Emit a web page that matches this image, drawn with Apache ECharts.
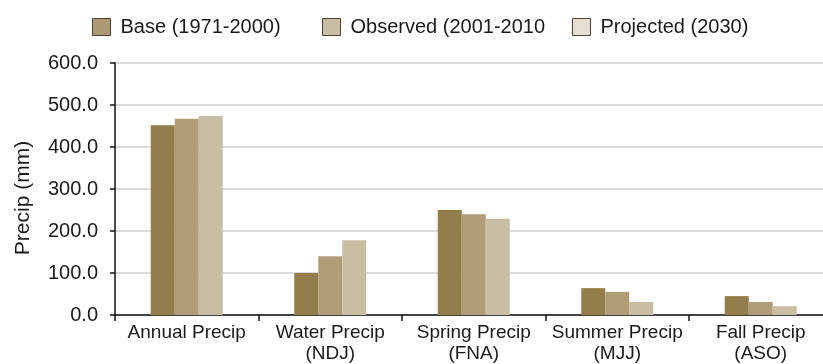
<!DOCTYPE html>
<html>
<head>
<meta charset="utf-8">
<script src="https://cdn.jsdelivr.net/npm/echarts@6/dist/echarts.min.js"></script>
<style>
  html, body { margin: 0; padding: 0; background: #fff; }
  #chart { width: 823px; height: 364px; }
</style>
</head>
<body>
<div id="chart"></div>
<script>
const categories = ['Annual Precip', 'Water Precip\n(NDJ)', 'Spring Precip\n(FNA)', 'Summer Precip\n(MJJ)', 'Fall Precip\n(ASO)']
const seriesNames = ['Base (1971-2000)', 'Observed (2001-2010', 'Projected (2030)']
const baseValues = [452, 100, 250, 64, 45]
const observedValues = [467, 140, 240, 55, 31]
const projectedValues = [474, 178, 229, 31, 21]
const yTicks = [0, 100, 200, 300, 400, 500, 600]

const barColors = ['#937e4b', '#b09d77', '#c9bea4']
const legendColors = ['#ad9a74', '#c9bea3', '#e6e0d4']
const legendLeft = [87, 317, 567]
const font = '"Liberation Sans", Arial, sans-serif'

const chart = echarts.init(document.getElementById('chart'))

chart.setOption({
  animation: false,
  grid: { left: 115, right: -9.5, top: 63, bottom: 49, outerBoundsMode: 'none', containLabel: false },
  legend: seriesNames.map((name, i) => ({
    left: legendLeft[i],
    top: 12,
    icon: 'rect',
    itemWidth: 18,
    itemHeight: 17,
    data: [{
      name,
      itemStyle: { color: legendColors[i], borderColor: '#4d4030', borderWidth: 1 }
    }],
    textStyle: { fontFamily: font, fontSize: 20, color: '#1a1a1a', padding: [0, 0, 0, 5] }
  })),
  xAxis: {
    type: 'category',
    data: categories,
    axisLine: { lineStyle: { color: '#111', width: 1.5 } },
    axisTick: { show: true, interval: 0, length: 6, lineStyle: { color: '#111', width: 1.5 } },
    axisLabel: { interval: 0, fontFamily: font, fontSize: 19, color: '#1a1a1a', lineHeight: 21, margin: 7 }
  },
  yAxis: {
    type: 'value',
    min: yTicks[0],
    max: yTicks[yTicks.length - 1],
    interval: 100,
    name: 'Precip (mm)',
    nameLocation: 'middle',
    nameGap: 81,
    nameRotate: 90,
    nameTextStyle: { fontFamily: font, fontSize: 21, color: '#1a1a1a', padding: [0, 18, 0, 0] },
    axisLine: { show: true, lineStyle: { color: '#111', width: 1.5 } },
    axisTick: { show: true, length: 5, lineStyle: { color: '#111', width: 1.5 } },
    axisLabel: { fontFamily: font, fontSize: 20, color: '#1a1a1a', margin: 17, formatter: v => v.toFixed(1) },
    splitLine: { lineStyle: { color: '#dcdcdc', width: 2 } }
  },
  series: [baseValues, observedValues, projectedValues].map((values, i) => ({
    name: seriesNames[i],
    type: 'bar',
    data: values,
    barWidth: 24,
    barGap: '0%',
    itemStyle: { color: barColors[i] }
  }))
})
</script>
</body>
</html>
